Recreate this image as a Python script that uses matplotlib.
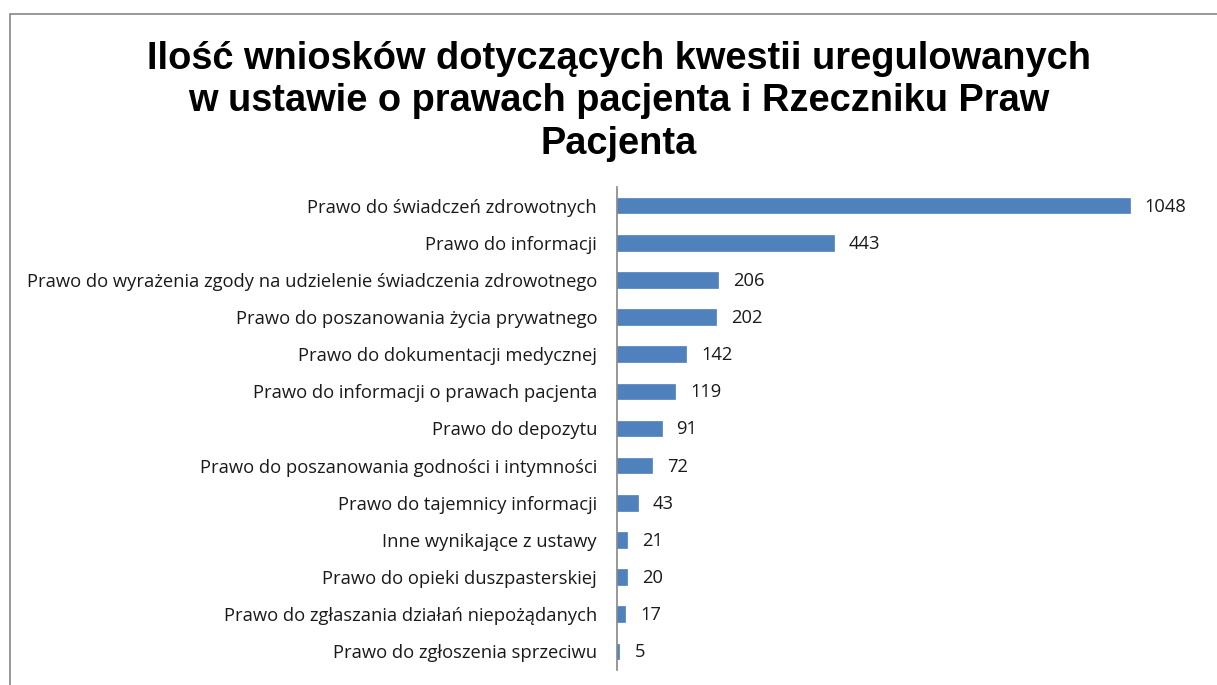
import matplotlib
matplotlib.use("Agg")
import matplotlib.pyplot as plt
from matplotlib.patches import Rectangle

categories = [
    "Prawo do świadczeń zdrowotnych",
    "Prawo do informacji",
    "Prawo do wyrażenia zgody na udzielenie świadczenia zdrowotnego",
    "Prawo do poszanowania życia prywatnego",
    "Prawo do dokumentacji medycznej",
    "Prawo do informacji o prawach pacjenta",
    "Prawo do depozytu",
    "Prawo do poszanowania godności i intymności",
    "Prawo do tajemnicy informacji",
    "Inne wynikające z ustawy",
    "Prawo do opieki duszpasterskiej",
    "Prawo do zgłaszania działań niepożądanych",
    "Prawo do zgłoszenia sprzeciwu",
]
values = [1048, 443, 206, 202, 142, 119, 91, 72, 43, 21, 20, 17, 5]
title = "Ilość wniosków dotyczących kwestii uregulowanych\nw ustawie o prawach pacjenta i Rzeczniku Praw\nPacjenta"

W, H = 1217, 685
fig = plt.figure(figsize=(W / 100, H / 100), dpi=100)
fig.patch.set_facecolor("white")

# chart border (Excel chart area)
fig.patches.append(Rectangle((10 / W, -0.1), 1.2, 1 - 14 / H + 0.1, transform=fig.transFigure,
                             fill=False, edgecolor="#868686", linewidth=1.2))

ax = fig.add_axes([617 / W, 1 - 670 / H, (1204 - 617) / W, (670 - 187) / H])
n = len(categories)
ypos = list(range(n))
ax.barh(ypos, values, height=0.42, color="#4F81BD", edgecolor="#4F81BD", linewidth=0.5)
ax.set_ylim(n - 0.5, -0.5)
ax.set_xlim(0, 1200)
ax.set_yticks(ypos)
lab_font = ["Open Sans", "DejaVu Sans"]
ax.set_yticklabels(categories, fontsize=13.2, family=lab_font, color="#1a1a1a")
ax.tick_params(axis="y", length=0, pad=14.4)
ax.set_xticks([])
for s in ["top", "right", "bottom"]:
    ax.spines[s].set_visible(False)
ax.spines["left"].set_color("#868686")
ax.spines["left"].set_linewidth(1.2)

for y, v in zip(ypos, values):
    ax.annotate(str(v), (v, y), xytext=(15, -1), textcoords="offset pixels",
                va="center", ha="left", fontsize=13.2, family=lab_font, color="#1a1a1a")

fig.text(619 / W, 1 - 41 / H, title, ha="center", va="top", fontsize=27.4, fontweight="bold",
         family=["Liberation Sans", "DejaVu Sans"], linespacing=1.23)

fig.savefig("out.png", dpi=100)
